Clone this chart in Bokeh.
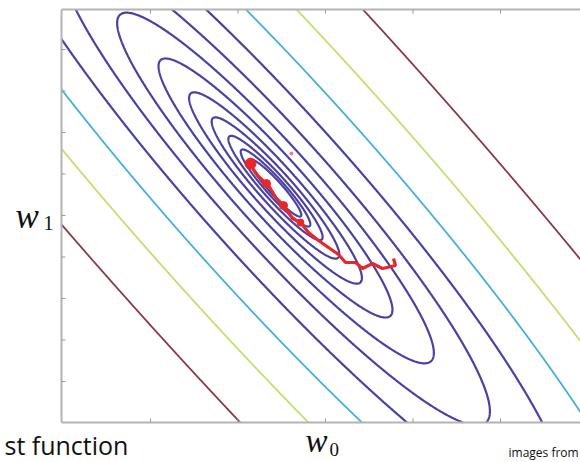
import numpy as np
from bokeh.plotting import figure
from bokeh.models import Label
from bokeh.embed import file_html
from bokeh.resources import INLINE

# ---- data ----
# quadratic cost J(w0, w1) = A*dx^2 + B*dx*dy + C*dy^2 around the minimum (c0, c1)
w_min = [-0.5714, 0.6627]
coef_A, coef_B, coef_C = 54.52, 43.91, 10.0
levels = [0.55, 1.0, 1.833, 3.36, 6.16, 11.29, 20.69, 37.93, 69.52, 127.4, 233.6, 428.2]
level_colors = ["#4a41a3"] * 9 + ["#44afe0", "#c4de70", "#8a3a46"]
level_widths = [2.2] * 9 + [1.8, 1.8, 1.8]

# gradient descent path (w0, w1)
path_w0 = [0.777, 0.80, 0.651, 0.537, 0.423, 0.343, 0.229, 0.149, 0.034, -0.08,
           -0.194, -0.286, -0.377, -0.469, -0.56, -0.651, -0.766, -0.857, -0.857]
path_w1 = [-1.036, -1.205, -1.277, -1.157, -1.277, -1.133, -1.133, -0.94, -0.771, -0.602,
           -0.41, -0.169, -0.072, 0.217, 0.41, 0.723, 0.94, 1.205, 1.325]
step_w0 = [-0.857, -0.674, -0.48, -0.286]
step_w1 = [1.25, 0.77, 0.24, -0.17]
step_size = [11, 8, 8, 7]
stray_w0 = [-0.389]
stray_w1 = [1.494]

# ticks
x_ticks = [-2, -1, 0, 1, 2]
y_ticks = [-4, -3, -2, -1, 0, 1, 2, 3, 4]

# plot box (axes area) and full view
box_x = (-3.017, 2.914)
box_y = (-4.988, 4.964)
view_x = (-3.714, 2.914)
view_y = (-5.952, 5.181)

p = figure(width=580, height=462, x_range=view_x, y_range=view_y,
           output_backend="svg", toolbar_location=None,
           min_border=0, x_axis_location=None, y_axis_location=None)
p.outline_line_color = None
p.background_fill_color = "white"
p.border_fill_color = "white"
p.grid.visible = False

# contours on the plot box only
xs = np.linspace(box_x[0], box_x[1], 700)
ys = np.linspace(box_y[0], box_y[1], 600)
X, Y = np.meshgrid(xs, ys)
dx = X - w_min[0]
dy = Y - w_min[1]
J = coef_A * dx ** 2 + coef_B * dx * dy + coef_C * dy ** 2
p.contour(xs, ys, J, levels, line_color=level_colors, line_width=level_widths)

# axes frame (left, top, bottom) and inward ticks
frame_col = "#b4b4b4"
p.segment(x0=[box_x[0], box_x[0], box_x[0]], y0=[box_y[0], box_y[1], box_y[0]],
          x1=[box_x[0], box_x[1], box_x[1]], y1=[box_y[1], box_y[1], box_y[0]],
          line_color=frame_col, line_width=2)
tick_len_y = 4 / 41.5
tick_len_x = 4 / 87.5
p.segment(x0=x_ticks, y0=[box_y[0]] * len(x_ticks), x1=x_ticks,
          y1=[box_y[0] + tick_len_y] * len(x_ticks), line_color="#9a9a9a", line_width=1)
p.segment(x0=x_ticks, y0=[box_y[1]] * len(x_ticks), x1=x_ticks,
          y1=[box_y[1] - tick_len_y] * len(x_ticks), line_color="#9a9a9a", line_width=1)
p.segment(x0=[box_x[0]] * len(y_ticks), y0=y_ticks, x1=[box_x[0] + tick_len_x] * len(y_ticks),
          y1=y_ticks, line_color="#9a9a9a", line_width=1)

# gradient descent path
p.line(path_w0, path_w1, line_color="#e8262e", line_width=3.2)
p.scatter(step_w0, step_w1, size=step_size, marker="circle", fill_color="#e8262e",
          line_color="#e8262e")
p.scatter(stray_w0, stray_w1, size=4, marker="circle", fill_color="#f08080", line_color=None)

def px_to_data(px, py):
    return (px - 325) / 87.5, (215 - py) / 41.5

def add_label(text, px, py, size, font, style="normal", align="left"):
    x, y = px_to_data(px, py)
    p.add_layout(Label(x=x, y=y, text=text, text_font=font, text_font_size=size,
                       text_font_style=style, text_align=align,
                       text_baseline="alphabetic", text_color="#111111"))

add_label("w", 15, 216, "35px", "Liberation Serif", "italic")
add_label("1", 43, 222, "20px", "Liberation Serif")
add_label("w", 305, 441, "33px", "Liberation Serif", "italic")
add_label("0", 329, 449, "19px", "Liberation Serif")
add_label("st function", 4, 445, "25px", "Open Sans")
add_label("images from", 508, 452, "12px", "Open Sans")

open("out.html", "w").write(file_html(p, INLINE))
